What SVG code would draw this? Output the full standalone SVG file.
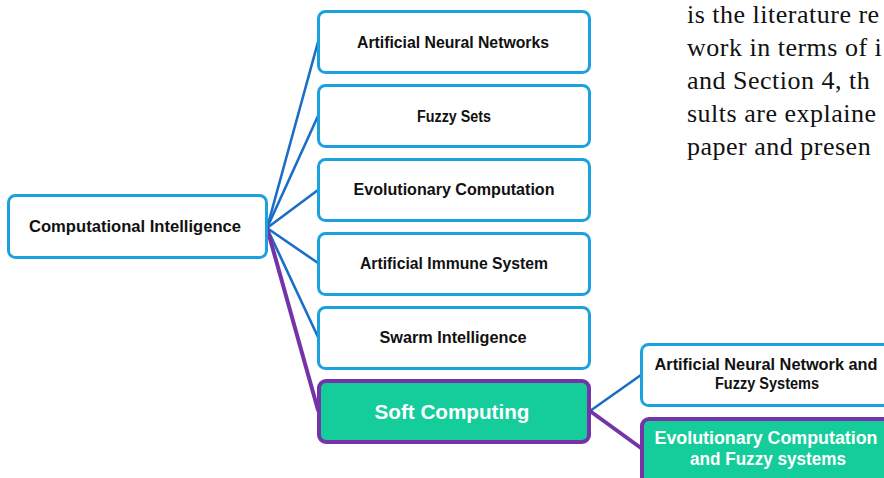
<svg xmlns="http://www.w3.org/2000/svg" width="884" height="478" viewBox="0 0 884 478">
  <style>
    .box { fill: #ffffff; stroke: #1ba1de; stroke-width: 3; }
    .soft { fill: #14cd9b; stroke: #7433a6; stroke-width: 4; }
    .lbl { font-family: "Liberation Sans", Arial, sans-serif; font-weight: bold; font-size: 16px; fill: #111111; text-anchor: middle; }
    .wlbl { font-family: "Liberation Sans", Arial, sans-serif; font-weight: bold; fill: #ffffff; text-anchor: middle; }
    .blue { stroke: #1b6ec6; stroke-width: 2.6; fill: none; stroke-linecap: round; }
    .purple { stroke: #7433a6; stroke-width: 4; fill: none; stroke-linecap: round; }
    .body { font-family: "Liberation Serif", "Times New Roman", serif; font-size: 26px; letter-spacing: 0.5px; fill: #111111; }
  </style>

  <rect width="884" height="478" fill="#ffffff"/>

  <!-- running text of the page -->
  <g id="page-text">
    <text class="body" x="687" y="23">is the literature re</text>
    <text class="body" x="687" y="56">work in terms of i</text>
    <text class="body" x="687" y="89">and Section 4, th</text>
    <text class="body" x="687" y="122">sults are explaine</text>
    <text class="body" x="687" y="155">paper and presen</text>
  </g>

  <!-- connectors -->
  <g id="connectors">
    <line class="blue" x1="267" y1="228" x2="318" y2="42"/>
    <line class="blue" x1="267" y1="228" x2="318" y2="116"/>
    <line class="blue" x1="267" y1="228" x2="318" y2="190"/>
    <line class="blue" x1="267" y1="228" x2="318" y2="263"/>
    <line class="blue" x1="267" y1="228" x2="318" y2="337"/>
    <line class="purple" x1="267" y1="228" x2="318" y2="410"/>
    <line class="blue" x1="590" y1="411" x2="641" y2="375"/>
    <line class="purple" x1="590" y1="411" x2="641" y2="448"/>
  </g>

  <g id="computational-intelligence">
    <rect class="box" x="8.5" y="195.5" width="258" height="62" rx="7"/>
    <text class="lbl" x="135" y="232" textLength="212" lengthAdjust="spacingAndGlyphs">Computational Intelligence</text>
  </g>

  <g id="artificial-neural-networks">
    <rect class="box" x="318.5" y="11.5" width="271" height="61" rx="7"/>
    <text class="lbl" x="453" y="48" textLength="192" lengthAdjust="spacingAndGlyphs">Artificial Neural Networks</text>
  </g>

  <g id="fuzzy-sets">
    <rect class="box" x="318.5" y="85.5" width="271" height="61" rx="7"/>
    <text class="lbl" x="454" y="122" textLength="74" lengthAdjust="spacingAndGlyphs">Fuzzy Sets</text>
  </g>

  <g id="evolutionary-computation">
    <rect class="box" x="318.5" y="159.5" width="271" height="61" rx="7"/>
    <text class="lbl" x="454" y="195" textLength="201" lengthAdjust="spacingAndGlyphs">Evolutionary Computation</text>
  </g>

  <g id="artificial-immune-system">
    <rect class="box" x="318.5" y="233.5" width="271" height="61" rx="7"/>
    <text class="lbl" x="454" y="269" textLength="188" lengthAdjust="spacingAndGlyphs">Artificial Immune System</text>
  </g>

  <g id="swarm-intelligence">
    <rect class="box" x="318.5" y="307.5" width="271" height="61" rx="7"/>
    <text class="lbl" x="453" y="343" textLength="147" lengthAdjust="spacingAndGlyphs">Swarm Intelligence</text>
  </g>

  <g id="soft-computing">
    <rect class="soft" x="319" y="381" width="270" height="61" rx="7"/>
    <text class="wlbl" x="452" y="419" font-size="21" textLength="155" lengthAdjust="spacingAndGlyphs">Soft Computing</text>
  </g>

  <g id="ann-fuzzy-systems">
    <rect class="box" x="641.5" y="344.5" width="270" height="61" rx="7"/>
    <text class="lbl" x="766" y="370" textLength="223" lengthAdjust="spacingAndGlyphs">Artificial Neural Network and</text>
    <text class="lbl" x="767" y="389" textLength="104" lengthAdjust="spacingAndGlyphs">Fuzzy Systems</text>
  </g>

  <g id="ec-fuzzy-systems">
    <rect class="soft" x="642" y="419" width="270" height="70" rx="7"/>
    <text class="wlbl" x="766" y="444" font-size="18" textLength="223" lengthAdjust="spacingAndGlyphs">Evolutionary Computation</text>
    <text class="wlbl" x="768" y="465" font-size="18" textLength="156" lengthAdjust="spacingAndGlyphs">and Fuzzy systems</text>
  </g>
</svg>
